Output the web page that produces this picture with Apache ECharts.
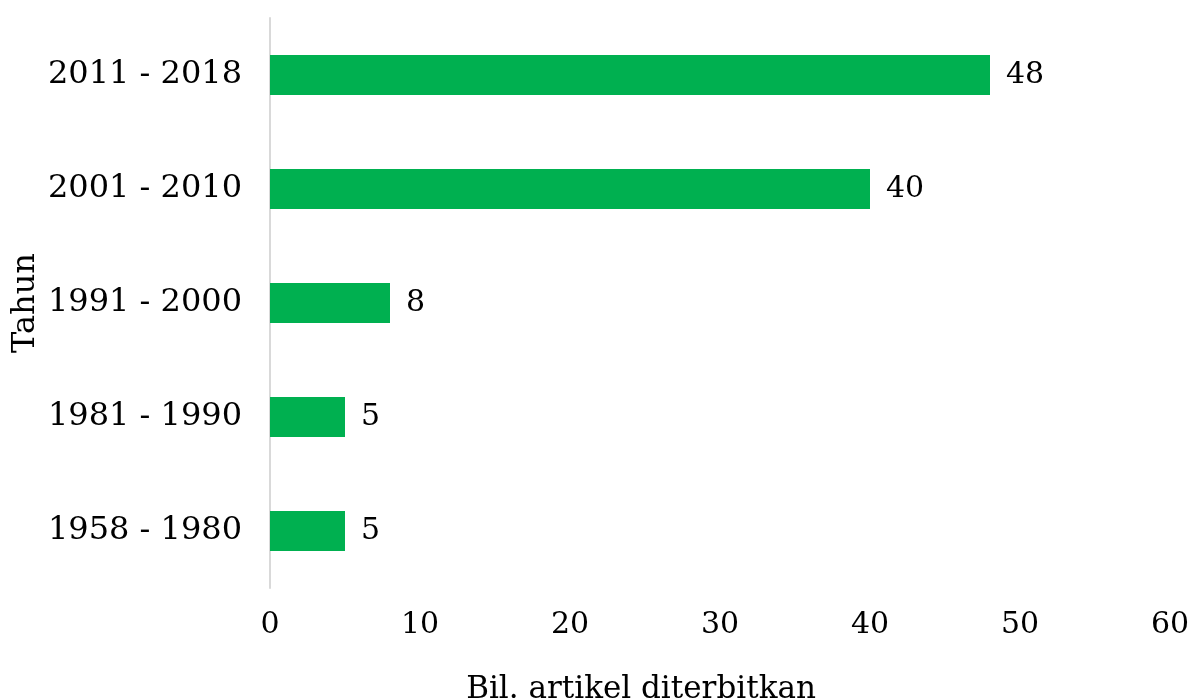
<!DOCTYPE html>
<html>
<head>
<meta charset="utf-8">
<script src="https://cdn.jsdelivr.net/npm/echarts@6/dist/echarts.min.js"></script>
<style>
  html, body { margin: 0; padding: 0; background: #fff; }
  #chart { width: 1193px; height: 698px; }
</style>
</head>
<body>
<div id="chart"></div>
<script>
// Published articles per period
const periods = ['1958 - 1980', '1981 - 1990', '1991 - 2000', '2001 - 2010', '2011 - 2018'];
const articleCounts = [5, 5, 8, 40, 48];
const xTicks = { min: 0, max: 60, interval: 10 };

const serif = '"DejaVu Serif", serif';
const chart = echarts.init(document.getElementById('chart'));
chart.setOption({
  animation: false,
  backgroundColor: '#ffffff',
  grid: { left: 270, right: 23, top: 18, bottom: 110, containLabel: false, outerBoundsMode: 'none' },
  xAxis: {
    type: 'value',
    min: xTicks.min, max: xTicks.max, interval: xTicks.interval,
    name: 'Bil. artikel diterbitkan',
    nameLocation: 'middle',
    nameGap: 86,
    nameMoveOverlap: false,
    nameTextStyle: { fontFamily: serif, fontSize: 31, color: '#000', padding: [0, 158, 0, 0] },
    axisLine: { show: false },
    axisTick: { show: false },
    splitLine: { show: false },
    axisLabel: { fontFamily: serif, fontSize: 30, color: '#000', margin: 22 }
  },
  yAxis: {
    type: 'category',
    data: periods,
    name: 'Tahun',
    nameLocation: 'middle',
    nameGap: 228,
    nameMoveOverlap: false,
    nameTextStyle: { fontFamily: serif, fontSize: 32, color: '#000' },
    axisLine: { show: true, lineStyle: { color: '#d9d9d9', width: 2 } },
    axisTick: { show: false },
    axisLabel: { fontFamily: serif, fontSize: 32, color: '#000', margin: 28 }
  },
  series: [{
    type: 'bar',
    data: articleCounts,
    barWidth: '35%',
    itemStyle: { color: '#00b050' },
    label: {
      show: true,
      position: 'right',
      distance: 16,
      fontFamily: serif,
      fontSize: 30,
      color: '#000'
    }
  }]
});
</script>
</body>
</html>
